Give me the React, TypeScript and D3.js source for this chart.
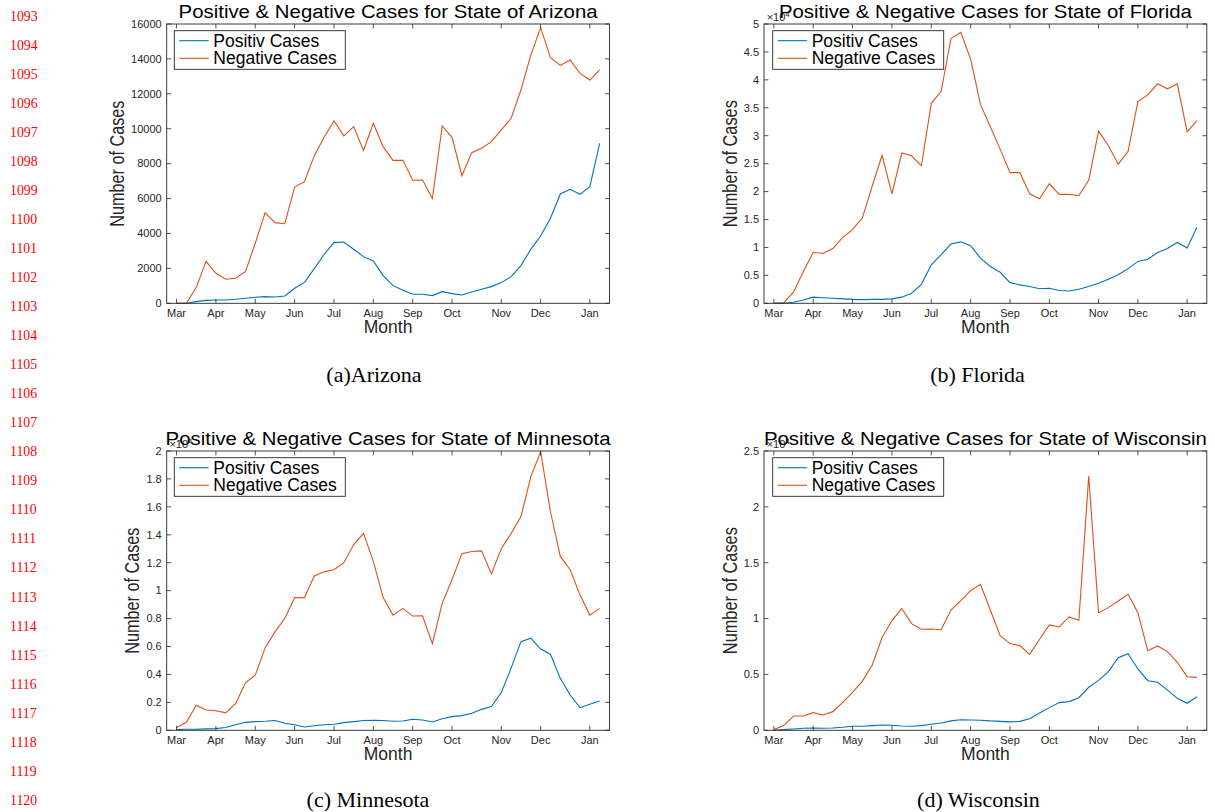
import React from "react";
import * as d3 from "d3";

// ---- Data (weekly, index 0 = first week of March 2020) ----
const MONTH_LABELS = ["Mar", "Apr", "May", "Jun", "Jul", "Aug", "Sep", "Oct", "Nov", "Dec", "Jan"];
const MONTH_WEEKS = [0, 4, 8, 12, 16, 20, 24, 28, 33, 37, 42];

const AZ_POSITIVE = [0, 0, 95, 170, 190, 190, 230, 290, 345, 380, 360, 420, 860, 1200, 1985, 2807, 3475, 3513, 3093, 2673, 2425, 1585, 1012, 745, 515, 515, 440, 668, 554, 477, 650, 802, 955, 1184, 1527, 2157, 3093, 3857, 4869, 6263, 6530, 6243, 6683, 9165];
const AZ_NEGATIVE = [0, 0, 900, 2400, 1720, 1380, 1430, 1810, 3440, 5190, 4620, 4560, 6660, 6970, 8460, 9510, 10460, 9590, 10120, 8760, 10310, 8960, 8190, 8190, 7050, 7060, 6000, 10160, 9510, 7310, 8630, 8880, 9260, 9930, 10600, 12220, 14220, 15790, 14070, 13630, 13940, 13170, 12790, 13370];

const FL_POSITIVE = [0, 0, 200, 600, 1100, 1000, 900, 800, 700, 650, 700, 700, 800, 1100, 1800, 3400, 6900, 8700, 10600, 11000, 10300, 8100, 6600, 5550, 3700, 3300, 3000, 2600, 2700, 2300, 2200, 2500, 3000, 3600, 4300, 5100, 6200, 7500, 7900, 9100, 9800, 10900, 9900, 13600];
const FL_NEGATIVE = [0, 100, 2000, 5700, 9100, 8950, 9800, 11800, 13200, 15300, 21000, 26500, 19600, 26900, 26400, 24600, 35800, 37900, 47400, 48500, 43700, 35600, 31600, 27600, 23400, 23400, 19600, 18700, 21400, 19500, 19500, 19300, 22000, 30800, 28200, 24900, 27200, 36100, 37300, 39300, 38400, 39300, 30700, 32700];

const MN_POSITIVE = [50, 70, 70, 100, 120, 200, 400, 570, 620, 650, 700, 500, 400, 240, 330, 400, 430, 550, 620, 700, 720, 700, 650, 670, 790, 740, 600, 830, 980, 1050, 1220, 1500, 1700, 2700, 4450, 6350, 6600, 5820, 5450, 3720, 2530, 1620, 1860, 2100];
const MN_NEGATIVE = [200, 570, 1800, 1450, 1400, 1250, 1900, 3400, 3950, 5900, 7050, 8000, 9500, 9500, 11050, 11350, 11500, 12000, 13300, 14100, 12100, 9500, 8250, 8730, 8180, 8200, 6200, 9100, 10800, 12650, 12800, 12850, 11200, 13000, 14100, 15300, 18150, 19950, 15650, 12450, 11500, 9700, 8250, 8730];

const WI_POSITIVE = [0, 60, 120, 180, 210, 180, 210, 270, 360, 360, 420, 480, 450, 390, 360, 420, 540, 660, 840, 950, 920, 900, 840, 800, 750, 800, 1040, 1550, 2030, 2480, 2570, 2920, 3850, 4470, 5250, 6500, 6860, 5490, 4440, 4300, 3600, 2860, 2420, 3000];
const WI_NEGATIVE = [60, 420, 1280, 1280, 1580, 1370, 1670, 2500, 3400, 4400, 5850, 8300, 9800, 10900, 9550, 9050, 9070, 9000, 10770, 11600, 12500, 13070, 10770, 8470, 7760, 7580, 6800, 8150, 9430, 9250, 10150, 9850, 22760, 10530, 10980, 11570, 12170, 10530, 7130, 7550, 7040, 6090, 4800, 4740];

const STATES = ["Arizona", "Florida", "Minnesota", "Wisconsin"];
const CAPTIONS = ["(a)Arizona", "(b) Florida", "(c) Minnesota", "(d) Wisconsin"];
const Y_MAX = [16000, 50000, 20000, 25000];
const Y_STEP = [2000, 5000, 2000, 5000];
const Y_EXPONENT = [0, 4, 4, 4];
const LEGEND_LABELS = ["Positiv Cases", "Negative Cases"];
const LINE_NUMBERS = d3.range(1093, 1121);

const POSITIVE = [AZ_POSITIVE, FL_POSITIVE, MN_POSITIVE, WI_POSITIVE];
const NEGATIVE = [AZ_NEGATIVE, FL_NEGATIVE, MN_NEGATIVE, WI_NEGATIVE];

// ---- Styles / layout ----
const BLUE = "#0072BD";
const ORANGE = "#D95319";
const AXIS = "#262626";
const SANS = "'Liberation Sans', Arial, Helvetica, sans-serif";
const SERIF = "'Liberation Serif', 'Times New Roman', serif";

const LAYOUT = [
  { x0: 166.7, y0: 24, cap: { x: 374, y: 381.7 }, titleW: 419, ylabW: 126 },
  { x0: 764, y0: 24, cap: { x: 977.5, y: 381.7 }, titleW: 413, ylabW: 127 },
  { x0: 166.7, y0: 451, cap: { x: 368, y: 806.7 }, titleW: 445, ylabW: 126 },
  { x0: 764, y0: 451, cap: { x: 978.5, y: 806.7 }, titleW: 443, ylabW: 127 },
];
const W = 442.8;
const H = 279.3;
const TICK = 4.4;

function Panel({ idx }: { idx: number }) {
  const { x0, y0, cap, titleW, ylabW } = LAYOUT[idx];
  const x1 = x0 + W;
  const y1 = y0 + H;
  const x = d3.scaleLinear().domain([-1, 44]).range([x0, x1]);
  const y = d3.scaleLinear().domain([0, Y_MAX[idx]]).range([y1, y0]);
  const yTicks = d3.range(0, Y_MAX[idx] + Y_STEP[idx] / 2, Y_STEP[idx]);
  const exp = Y_EXPONENT[idx];
  const fmt = (v: number) => (exp ? String(v / Math.pow(10, exp)) : String(v));
  const line = d3
    .line<number>()
    .x((_, i) => x(i))
    .y((d) => y(d));
  const cx = (x0 + x1) / 2;
  const cy = (y0 + y1) / 2;
  const lg = { x: x0 + (idx % 2 === 0 ? 7.6 : 8.7), y: y0 + 6.7, w: 171, h: 38.6 };
  const labelGap = idx === 0 ? 42.7 : 27.3;

  return (
    <g>
      {/* data lines */}
      <path d={line(POSITIVE[idx]) || ""} fill="none" stroke={BLUE} strokeWidth={1.1} />
      <path d={line(NEGATIVE[idx]) || ""} fill="none" stroke={ORANGE} strokeWidth={1.1} />

      {/* box */}
      <rect x={x0} y={y0} width={W} height={H} fill="none" stroke={AXIS} strokeWidth={0.9} />

      {/* x ticks */}
      {MONTH_WEEKS.map((w, i) => (
        <g key={"xt" + i}>
          <line x1={x(w)} x2={x(w)} y1={y1} y2={y1 - TICK} stroke={AXIS} strokeWidth={0.8} />
          <line x1={x(w)} x2={x(w)} y1={y0} y2={y0 + TICK} stroke={AXIS} strokeWidth={0.8} />
          <text x={x(w)} y={y1 + 13.7} textAnchor="middle" fontSize={11} fill={AXIS} fontFamily={SANS}>
            {MONTH_LABELS[i]}
          </text>
        </g>
      ))}

      {/* y ticks */}
      {yTicks.map((t, i) => (
        <g key={"yt" + i}>
          <line x1={x0} x2={x0 + TICK} y1={y(t)} y2={y(t)} stroke={AXIS} strokeWidth={0.8} />
          <line x1={x1} x2={x1 - TICK} y1={y(t)} y2={y(t)} stroke={AXIS} strokeWidth={0.8} />
          <text x={x0 - 5} y={y(t) + 3.8} textAnchor="end" fontSize={11} fill={AXIS} fontFamily={SANS}>
            {fmt(t)}
          </text>
        </g>
      ))}

      {exp ? (
        <text x={x0 + 2.7} y={y0 - 3.5} fontSize={11} fill={AXIS} fontFamily={SANS}>
          ×10
          <tspan fontSize={8} dy={-4}>
            {exp}
          </tspan>
        </text>
      ) : null}

      {/* legend */}
      <rect x={lg.x} y={lg.y} width={lg.w} height={lg.h} fill="#fff" stroke={AXIS} strokeWidth={0.9} />
      {[BLUE, ORANGE].map((c, i) => (
        <g key={"lg" + i}>
          <line
            x1={lg.x + 5}
            x2={lg.x + 34.4}
            y1={lg.y + 10 + i * 17.6}
            y2={lg.y + 10 + i * 17.6}
            stroke={c}
            strokeWidth={1.1}
          />
          <text x={lg.x + 39} y={lg.y + 16 + i * 17.6} fontSize={17.5} fill="#000" fontFamily={SANS}>
            {LEGEND_LABELS[i]}
          </text>
        </g>
      ))}

      {/* title */}
      <text
        x={cx}
        y={y0 - 5.7}
        textAnchor="middle"
        fontSize={18}
        fill="#000"
        fontFamily={SANS}
        textLength={titleW}
        lengthAdjust="spacingAndGlyphs"
      >
        {`Positive & Negative Cases for State of ${STATES[idx]}`}
      </text>

      {/* axis labels */}
      <text x={cx} y={y1 + 30} textAnchor="middle" fontSize={17.5} fill={AXIS} fontFamily={SANS}>
        Month
      </text>
      <text
        transform={`translate(${x0 - labelGap},${cy}) rotate(-90)`}
        textAnchor="middle"
        fontSize={19.5}
        fill={AXIS}
        fontFamily={SANS}
        textLength={ylabW}
        lengthAdjust="spacingAndGlyphs"
      >
        Number of Cases
      </text>

      {/* caption */}
      <text x={cap.x} y={cap.y} textAnchor="middle" fontSize={22} fill="#000" fontFamily={SERIF}>
        {CAPTIONS[idx]}
      </text>
    </g>
  );
}

export default function App() {
  return (
    <div style={{ position: "absolute", left: 0, top: 0 }}>
      <svg width={1215} height={812} viewBox="0 0 1215 812" style={{ display: "block", background: "#fff" }}>
        <rect x={0} y={0} width={1215} height={812} fill="#fff" />
        {LINE_NUMBERS.map((n, i) => (
          <text key={n} x={10} y={20.7 + i * 29.04} fontSize={13.8} fill="#ff0000" fontFamily={SERIF}>
            {n}
          </text>
        ))}
        {STATES.map((s, i) => (
          <Panel key={s} idx={i} />
        ))}
      </svg>
    </div>
  );
}
